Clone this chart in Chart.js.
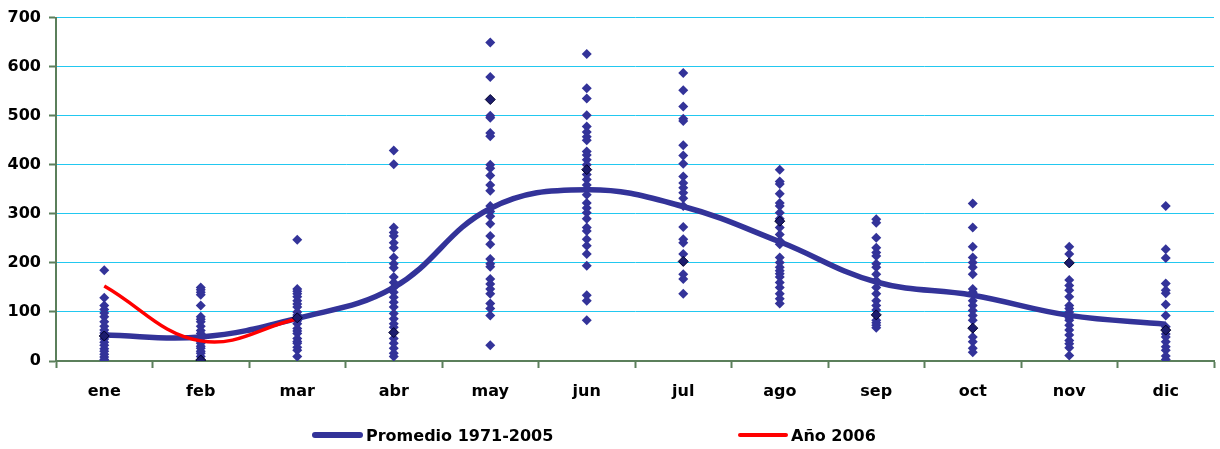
<!doctype html>
<html>

<head>
    <meta charset="utf-8" />
    <style>
        html,
        body {
            margin: 0px;
            padding: 0px;
            background-color: #ffffff;
        }

        .wrap {
            position: relative;
            width: 1220px;
            height: 449px;
        }

        .legend-item {
            position: absolute;
            top: 426px;
            font-family: "DejaVu Sans";
            font-weight: bold;
            font-size: 16px;
            color: #000000;
            white-space: nowrap;
            line-height: 20px;
        }

        .legend-line {
            display: inline-block;
            vertical-align: middle;
            margin-right: 3px;
            margin-top: -4px;
            border-radius: 3px;
        }
    </style>
    <title>Lluvia mensual</title>
</head>

<body>
    <div class="wrap">
        <canvas id="chart_rain" width="1220" height="449"></canvas>
        <div class="legend-item" style="left: 312px;">
            <span class="legend-line" style="width: 51px; height: 6px; background-color: #333399;"></span>Promedio 1971-2005
        </div>
        <div class="legend-item" style="left: 738px;">
            <span class="legend-line" style="width: 50px; height: 4px; background-color: #ff0000;"></span>Año 2006
        </div>
    </div>

    <script src="https://cdn.jsdelivr.net/npm/chart.js@4"></script>

    <script>
        var months = ["ene", "feb", "mar", "abr", "may", "jun", "jul", "ago", "sep", "oct", "nov", "dic"];

        var promedio = [53, 49, 87, 150, 311, 349, 315, 243, 161, 134, 93, 75];
        var anio2006 = [153, 41, 86];

        // darker marks (one single year highlighted)
        var marcados = [51, 2, 88, 58, 533, 390, 203, 285, 94, 67, 200, 63];

        // monthly totals 1971-2005
        var obsEne = [185, 129, 113, 105, 98, 90, 80, 71, 63, 57, 45, 38, 32, 25, 20, 14, 8, 3, 0];
        var obsFeb = [150, 145, 140, 135, 113, 90, 85, 80, 71, 62, 56, 46, 40, 36, 30, 26, 20, 16, 9];
        var obsMar = [247, 147, 142, 137, 131, 123, 116, 110, 100, 94, 82, 76, 66, 61, 56, 46, 40, 36, 28, 22, 9];
        var obsAbr = [429, 401, 272, 262, 255, 241, 231, 211, 198, 190, 171, 160, 150, 140, 130, 120, 110, 97, 86, 76, 69, 46, 36, 26, 16, 9];
        var obsMay = [649, 579, 500, 496, 465, 458, 400, 393, 378, 359, 347, 316, 305, 295, 280, 255, 238, 208, 198, 192, 167, 157, 147, 137, 117, 107, 93, 32];
        var obsJun = [626, 556, 535, 501, 478, 467, 457, 450, 427, 420, 410, 400, 380, 370, 359, 339, 322, 312, 302, 290, 272, 265, 248, 235, 218, 194, 134, 123, 83];
        var obsJul = [587, 552, 519, 494, 489, 440, 419, 402, 376, 363, 353, 343, 332, 316, 273, 248, 241, 218, 177, 167, 137];
        var obsAgo = [390, 366, 361, 341, 322, 316, 302, 290, 272, 258, 245, 238, 211, 201, 191, 184, 178, 171, 160, 150, 137, 127, 117];
        var obsSep = [289, 282, 251, 231, 221, 214, 198, 191, 177, 164, 150, 137, 123, 113, 104, 83, 78, 73, 68];
        var obsOct = [321, 272, 233, 211, 201, 191, 177, 147, 140, 137, 123, 113, 103, 93, 83, 49, 39, 26, 18];
        var obsNov = [233, 218, 165, 154, 144, 131, 113, 107, 100, 93, 88, 83, 73, 63, 53, 42, 35, 27, 11];
        var obsDic = [316, 228, 210, 158, 144, 138, 115, 93, 70, 55, 49, 39, 29, 22, 10, 3];

        var yTicks = [0, 100, 200, 300, 400, 500, 600, 700];

        var allObs = [obsEne, obsFeb, obsMar, obsAbr, obsMay, obsJun, obsJul, obsAgo, obsSep, obsOct, obsNov, obsDic];
        var puntos = [];
        allObs.forEach(function (list, i) {
            list.forEach(function (v) {
                puntos.push({ x: months[i], y: v });
            });
        });
        var puntosMarcados = marcados.map(function (v, i) { return { x: months[i], y: v }; });

        var axisColor = '#5b7f5b';
        var tickFont = { family: "DejaVu Sans", size: 16, weight: 'bold' };

        var ctx = document.getElementById('chart_rain').getContext('2d');
        var chart = new Chart(ctx, {
            type: 'line',
            data: {
                labels: months,
                datasets: [
                    {
                        label: 'marcados',
                        data: puntosMarcados,
                        showLine: false,
                        pointStyle: 'rectRot',
                        pointRadius: 5,
                        pointBackgroundColor: '#1c1c6e',
                        pointBorderColor: '#00002a',
                        pointBorderWidth: 1,
                        order: 0
                    },
                    {
                        label: 'Año 2006',
                        data: anio2006,
                        borderColor: '#ff0000',
                        borderWidth: 3.5,
                        pointRadius: 0,
                        tension: 0.4,
                        fill: false,
                        order: 1
                    },
                    {
                        label: 'Promedio 1971-2005',
                        data: promedio,
                        borderColor: '#333399',
                        borderWidth: 5.5,
                        pointRadius: 0,
                        tension: 0.4,
                        fill: false,
                        order: 2
                    },
                    {
                        label: 'años',
                        data: puntos,
                        showLine: false,
                        pointStyle: 'rectRot',
                        pointRadius: 5,
                        pointBackgroundColor: '#333399',
                        pointBorderColor: '#333399',
                        pointBorderWidth: 0,
                        order: 3
                    }
                ]
            },
            options: {
                animation: false,
                responsive: false,
                layout: {
                    padding: { top: 15, right: 5, bottom: 0, left: 0 }
                },
                plugins: {
                    legend: { display: false },
                    tooltip: { enabled: false }
                },
                scales: {
                    x: {
                        type: 'category',
                        offset: true,
                        grid: {
                            offset: true,
                            drawOnChartArea: false,
                            drawTicks: true,
                            tickLength: 7,
                            tickColor: axisColor,
                            tickWidth: 2
                        },
                        border: { color: axisColor, width: 2 },
                        ticks: {
                            color: '#000000',
                            font: tickFont,
                            padding: 14,
                            maxRotation: 0
                        },
                        afterFit: function (scale) {
                            scale.height = 88;
                        }
                    },
                    y: {
                        min: 0,
                        max: 700,
                        afterBuildTicks: function (scale) {
                            scale.ticks = yTicks.map(function (v) { return { value: v }; });
                        },
                        grid: {
                            color: '#22c8f0',
                            lineWidth: 1,
                            tickLength: 7,
                            tickColor: axisColor,
                            tickWidth: 2
                        },
                        border: { color: axisColor, width: 2 },
                        ticks: {
                            color: '#000000',
                            font: tickFont,
                            padding: 8
                        },
                        afterFit: function (scale) {
                            scale.width = 56;
                        }
                    }
                }
            }
        });
    </script>
</body>

</html>
